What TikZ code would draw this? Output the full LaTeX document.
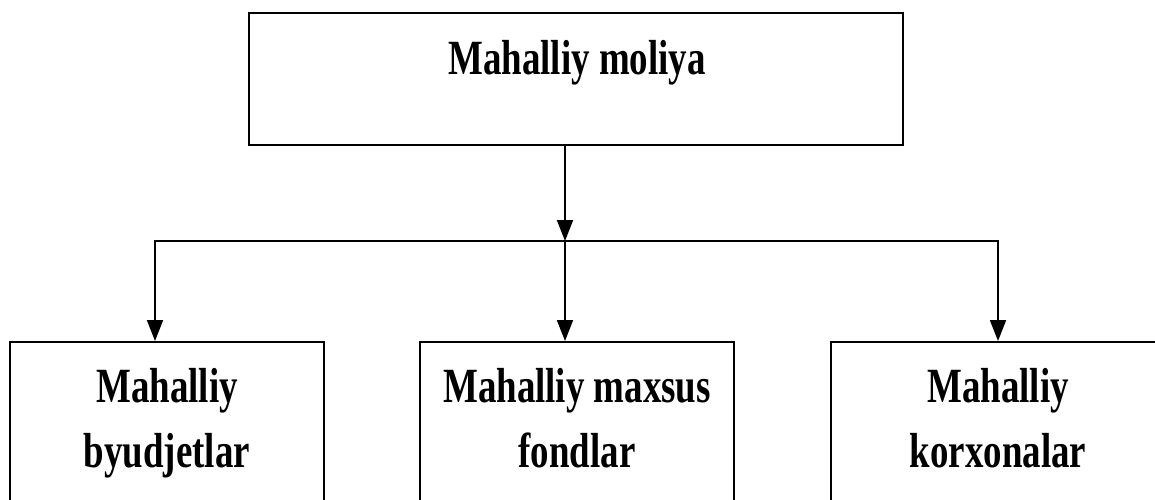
\documentclass[tikz,border=0pt]{standalone}
\usepackage{fontspec}
\newfontfamily\boxfont{Liberation Serif Bold}[FakeStretch=0.75]
\usetikzlibrary{arrows.meta, positioning}

\tikzset{
  box/.style={draw, line width=1pt, inner sep=0pt},
  boxtext/.style={font=\boxfont\fontsize{28}{37}\selectfont, align=center, inner sep=0pt},
  link/.style={line width=1.1pt},
  arrow/.style={link, -{Triangle[length=0.42cm, width=0.32cm]}}
}

\begin{document}
\begin{tikzpicture}
    \useasboundingbox (0,0) rectangle (23.1,-9.98);

    % Top box
    \node[box, minimum width=13.08cm, minimum height=2.64cm] (local) at (11.52,-1.58) {};
    \node[boxtext, anchor=base] (localtxt) at (11.54,-1.48) {Mahalliy moliya};

    % Bottom boxes (cut off by the page edge)
    \node[box, minimum width=6.28cm, minimum height=3.6cm, anchor=north] (budget) at (3.34,-6.82) {};
    \node[box, minimum width=6.28cm, minimum height=3.6cm, anchor=north] (funds) at (11.54,-6.82) {};
    \node[box, minimum width=6.68cm, minimum height=3.6cm, anchor=north] (firms) at (19.96,-6.82) {};

    \node[boxtext, anchor=north] (budgettxt) at (3.34,-7.36) {Mahalliy\\byudjetlar};
    \node[boxtext, anchor=north] (fundstxt) at (11.54,-7.36) {Mahalliy maxsus\\fondlar};
    \node[boxtext, anchor=north] (firmstxt) at (19.96,-7.36) {Mahalliy\\korxonalar};

    % Connectors
    \coordinate (split) at (11.30,-4.82);
    \draw[arrow] (local.south -| split) -- (split);
    \draw[arrow] (split) -| ([xshift=-0.24cm]budget.north);
    \draw[arrow] (split) -- (split |- funds.north);
    \draw[arrow] (split) -| (firms.north);
\end{tikzpicture}
\end{document}
